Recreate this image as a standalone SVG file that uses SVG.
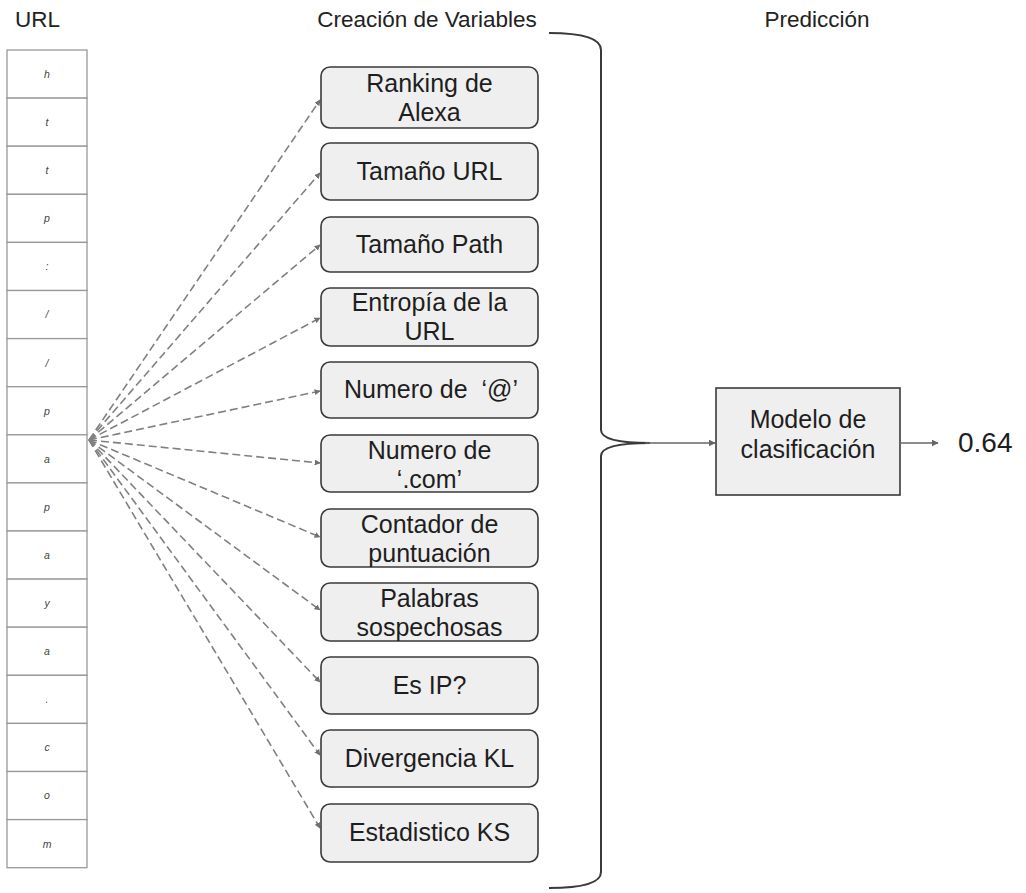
<svg xmlns="http://www.w3.org/2000/svg" width="1026" height="893" viewBox="0 0 1026 893">
<defs>
<style>
.hdr{font-family:"Liberation Sans",Arial,sans-serif;font-size:22.5px;fill:#222}
.box{fill:#efefef;stroke:#3a3a3a;stroke-width:1.6}
.bt{font-family:"Liberation Sans",Arial,sans-serif;font-size:25px;fill:#1e1e1e;text-anchor:middle}
.cell{fill:#fff;stroke:#999;stroke-width:1.3}
.ch{font-family:"Liberation Sans",Arial,sans-serif;font-size:10.5px;font-style:italic;fill:#444;text-anchor:middle}
.dash{fill:none;stroke:#808080;stroke-width:1.6;stroke-dasharray:8 4;marker-end:url(#ah)}
.solid{fill:none;stroke:#666;stroke-width:1.4;marker-end:url(#ah2)}
</style>
<marker id="ah" viewBox="0 0 10 10" refX="9" refY="5" markerWidth="6" markerHeight="6" markerUnits="userSpaceOnUse" orient="auto"><path d="M0,0 L10,5 L0,10 z" fill="#707070"/></marker>
<marker id="ah2" viewBox="0 0 10 10" refX="9" refY="5" markerWidth="7" markerHeight="7" markerUnits="userSpaceOnUse" orient="auto"><path d="M0,0 L10,5 L0,10 z" fill="#666"/></marker>
</defs>
<rect width="1026" height="893" fill="#fff"/>

<text class="hdr" x="15" y="27">URL</text>
<text class="hdr" x="427" y="27" text-anchor="middle">Creación de Variables</text>
<text class="hdr" x="817" y="27" text-anchor="middle">Predicción</text>

<g id="url">
<rect class="cell" x="7" y="50" width="80" height="48.1"/>
<rect class="cell" x="7" y="98.1" width="80" height="48.1"/>
<rect class="cell" x="7" y="146.2" width="80" height="48.1"/>
<rect class="cell" x="7" y="194.3" width="80" height="48.1"/>
<rect class="cell" x="7" y="242.4" width="80" height="48.1"/>
<rect class="cell" x="7" y="290.5" width="80" height="48.1"/>
<rect class="cell" x="7" y="338.6" width="80" height="48.1"/>
<rect class="cell" x="7" y="386.7" width="80" height="48.1"/>
<rect class="cell" x="7" y="434.8" width="80" height="48.1"/>
<rect class="cell" x="7" y="482.9" width="80" height="48.1"/>
<rect class="cell" x="7" y="531" width="80" height="48.1"/>
<rect class="cell" x="7" y="579.1" width="80" height="48.1"/>
<rect class="cell" x="7" y="627.2" width="80" height="48.1"/>
<rect class="cell" x="7" y="675.3" width="80" height="48.1"/>
<rect class="cell" x="7" y="723.4" width="80" height="48.1"/>
<rect class="cell" x="7" y="771.5" width="80" height="48.1"/>
<rect class="cell" x="7" y="819.6" width="80" height="48.1"/>
<text class="ch" x="47" y="78">h</text>
<text class="ch" x="47" y="126">t</text>
<text class="ch" x="47" y="174">t</text>
<text class="ch" x="47" y="222">p</text>
<text class="ch" x="47" y="270">:</text>
<text class="ch" x="47" y="318">/</text>
<text class="ch" x="47" y="367">/</text>
<text class="ch" x="47" y="415">p</text>
<text class="ch" x="47" y="463">a</text>
<text class="ch" x="47" y="511">p</text>
<text class="ch" x="47" y="559">a</text>
<text class="ch" x="47" y="607">y</text>
<text class="ch" x="47" y="655">a</text>
<text class="ch" x="47" y="703">.</text>
<text class="ch" x="47" y="751">c</text>
<text class="ch" x="47" y="799">o</text>
<text class="ch" x="47" y="848">m</text>
</g>

<g id="connectors">
<line class="dash" x1="89" y1="440" x2="320" y2="100"/>
<line class="dash" x1="89" y1="440" x2="320" y2="173"/>
<line class="dash" x1="89" y1="440" x2="320" y2="245"/>
<line class="dash" x1="89" y1="440" x2="320" y2="318"/>
<line class="dash" x1="89" y1="440" x2="320" y2="391"/>
<line class="dash" x1="89" y1="440" x2="320" y2="463"/>
<line class="dash" x1="89" y1="440" x2="320" y2="537"/>
<line class="dash" x1="89" y1="440" x2="320" y2="610"/>
<line class="dash" x1="89" y1="440" x2="320" y2="682"/>
<line class="dash" x1="89" y1="440" x2="320" y2="755"/>
<line class="dash" x1="89" y1="440" x2="320" y2="828"/>
<path d="M549,33 Q601,33 601,50 L601,430 Q601,443 650,443 Q601,443 601,456 L601,872 Q601,888 549,888" fill="none" stroke="#3a3a3a" stroke-width="2"/>
<line class="solid" x1="645" y1="443" x2="715" y2="443"/>
<line class="solid" x1="901" y1="443" x2="938" y2="443"/>
</g>

<g id="n1"><rect class="box" x="321" y="67" width="217" height="61" rx="9"/><text class="bt" x="429.5" y="92">Ranking de</text><text class="bt" x="429.5" y="121">Alexa</text></g>
<g id="n2"><rect class="box" x="321" y="143" width="217" height="57" rx="9"/><text class="bt" x="429.5" y="180">Tamaño URL</text></g>
<g id="n3"><rect class="box" x="321" y="217" width="217" height="55" rx="9"/><text class="bt" x="429.5" y="253">Tamaño Path</text></g>
<g id="n4"><rect class="box" x="321" y="288" width="217" height="58" rx="9"/><text class="bt" x="429.5" y="311">Entropía de la</text><text class="bt" x="429.5" y="340">URL</text></g>
<g id="n5"><rect class="box" x="321" y="362" width="217" height="56" rx="9"/><text class="bt" x="431" y="398">Numero de&#160; ‘@’</text></g>
<g id="n6"><rect class="box" x="321" y="435" width="217" height="57" rx="9"/><text class="bt" x="429.5" y="459">Numero de</text><text class="bt" x="429.5" y="488">‘.com’</text></g>
<g id="n7"><rect class="box" x="321" y="509" width="217" height="58" rx="9"/><text class="bt" x="429.5" y="533">Contador de</text><text class="bt" x="429.5" y="562">puntuación</text></g>
<g id="n8"><rect class="box" x="321" y="583" width="217" height="58" rx="9"/><text class="bt" x="429.5" y="607">Palabras</text><text class="bt" x="429.5" y="636">sospechosas</text></g>
<g id="n9"><rect class="box" x="321" y="657" width="217" height="57" rx="9"/><text class="bt" x="429.5" y="694">Es IP?</text></g>
<g id="n10"><rect class="box" x="321" y="730" width="217" height="57" rx="9"/><text class="bt" x="429.5" y="767">Divergencia KL</text></g>
<g id="n11"><rect class="box" x="321" y="804" width="217" height="58" rx="9"/><text class="bt" x="429.5" y="841">Estadistico KS</text></g>

<g id="model"><rect x="716" y="388" width="184" height="107" fill="#efefef" stroke="#3a3a3a" stroke-width="1.6"/><text class="bt" x="808" y="428">Modelo de</text><text class="bt" x="808" y="458">clasificación</text></g>
<g id="output"><text x="958" y="452" font-family="Liberation Sans, Arial, sans-serif" font-size="28" fill="#1e1e1e">0.64</text></g>
</svg>
